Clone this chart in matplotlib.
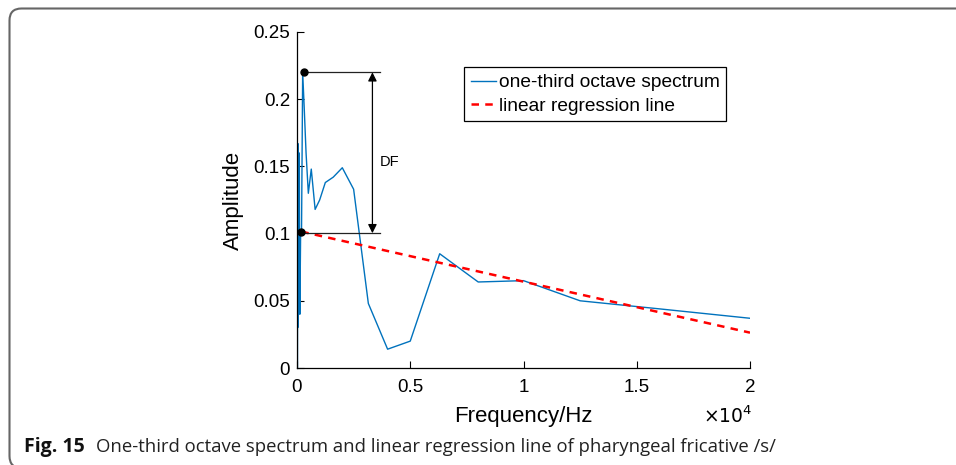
import matplotlib
matplotlib.use('Agg')
import matplotlib.pyplot as plt
from matplotlib.patches import FancyBboxPatch
from matplotlib.transforms import IdentityTransform

# one-third octave spectrum (Hz, amplitude)
freqs = [20, 25, 31.5, 40, 50, 63, 80, 100, 125, 160, 200, 250, 315, 400,
         500, 630, 800, 1000, 1250, 1600, 2000, 2500, 3150, 4000, 5000,
         6300, 8000, 10000, 12500, 16000, 20000]
amps = [0.0, 0.085, 0.030, 0.167, 0.032, 0.120, 0.045, 0.160, 0.040, 0.100,
        0.101, 0.220, 0.195, 0.160, 0.130, 0.148, 0.118, 0.125, 0.138, 0.142,
        0.149, 0.133, 0.048, 0.014, 0.020, 0.085, 0.064, 0.065, 0.050,
        0.044, 0.037]

# regression line end points
reg_f = [190, 20000]
reg_a = [0.1015, 0.0263]

# DF annotation: max point, regression start, arrow position
df_top = (320, 0.220)
df_bot = (190, 0.1015)
df_line_end = 3650
df_arrow_x = 3330

xticks = [0, 5000, 10000, 15000, 20000]
xticklabels = ['0', '0.5', '1', '1.5', '2']
yticks = [0, 0.05, 0.1, 0.15, 0.2, 0.25]
yticklabels = ['0', '0.05', '0.1', '0.15', '0.2', '0.25']

plt.rcParams['font.family'] = ['Liberation Sans', 'DejaVu Sans']

W, H = 956, 465
fig = plt.figure(figsize=(W / 100, H / 100), dpi=100)
ax = fig.add_axes([297 / W, 1 - 368 / H, (750 - 297) / W, (368 - 32) / H])

ax.plot(freqs, amps, color='#0072BD', lw=1, label='one-third octave spectrum')
ax.plot(reg_f, reg_a, color='red', ls=(0, (3, 2.5)), lw=1.8, label='linear regression line')

# DF marks
ax.plot([df_top[0], df_line_end], [df_top[1], df_top[1]], color='#222222', lw=0.9)
ax.plot([df_bot[0], df_line_end], [0.1003, 0.1003], color='#222222', lw=0.9)
ax.plot([df_top[0], df_bot[0]], [df_top[1], df_bot[1]], 'o', color='black', ms=5, ls='none')
ax.annotate('', xy=(df_arrow_x, df_top[1]), xytext=(df_arrow_x, 0.1003),
            arrowprops=dict(arrowstyle='<|-|>', color='black', lw=0.9,
                            mutation_scale=13, shrinkA=0, shrinkB=0))
ax.text(df_arrow_x + 330, 0.153, 'DF', fontsize=10.5, va='center', ha='left')

ax.set_xlim(0, 20000)
ax.set_ylim(0, 0.25)
ax.set_xticks(xticks, xticklabels)
ax.set_yticks(yticks, yticklabels)
ax.tick_params(direction='in', length=5, width=0.8, labelsize=13.5, pad=5)
ax.tick_params(axis='x', pad=8)
for s in ['top', 'right']:
    ax.spines[s].set_visible(False)
for s in ['left', 'bottom']:
    ax.spines[s].set_linewidth(0.9)

ax.set_xlabel('Frequency/Hz', fontsize=16, labelpad=7)
ax.set_ylabel('Amplitude', fontsize=16, labelpad=7)
ax.text(728 / W, 1 - 416 / H, r'$\times10^{4}$', transform=fig.transFigure,
        fontsize=13.5, ha='center', va='center', math_fontfamily='custom')

leg = ax.legend(loc='upper left', bbox_to_anchor=(0.369, 0.895), fontsize=13.8,
                frameon=True, fancybox=False, edgecolor='black', framealpha=1,
                handlelength=1.3, handletextpad=0.15, borderpad=0.35,
                labelspacing=0.3, borderaxespad=0)
leg.get_frame().set_linewidth(0.9)

# caption
fig.text(24 / W, 1 - 452 / H, 'Fig. 15', fontsize=14, fontweight='bold',
         family=['Open Sans', 'DejaVu Sans'], va='baseline', ha='left',
         color='#111111')
fig.text(96 / W, 1 - 452 / H,
         'One-third octave spectrum and linear regression line of pharyngeal fricative /s/',
         fontsize=13.3, family=['Open Sans', 'DejaVu Sans'], color='#222222',
         va='baseline', ha='left')

# rounded frame around the figure panel
frame = FancyBboxPatch((9.5, -3), 1100, H - 8.5 + 3,
                       boxstyle='round,pad=0,rounding_size=12',
                       transform=IdentityTransform(), fill=False,
                       edgecolor='#666666', lw=1.5)
fig.add_artist(frame)

fig.savefig('out.png', dpi=100)
